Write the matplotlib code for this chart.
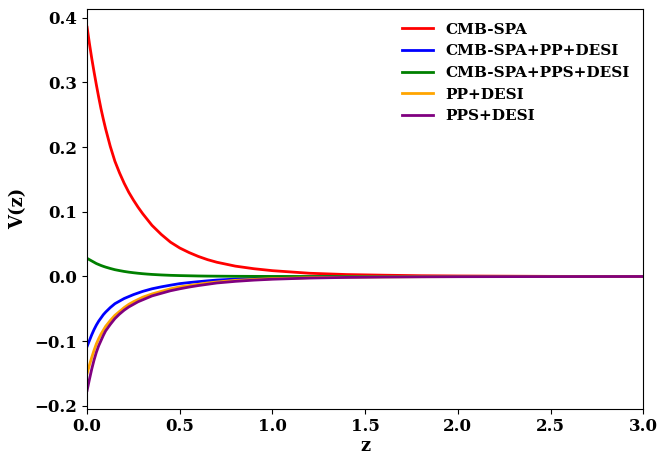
import matplotlib
matplotlib.use("Agg")
import matplotlib.pyplot as plt

plt.rcParams['font.family'] = 'DejaVu Serif'
plt.rcParams['font.weight'] = 'bold'

# values
z = [0, 0.0125, 0.025, 0.0375, 0.05, 0.0625, 0.075, 0.0875, 0.1, 0.125, 0.15,
     0.175, 0.2, 0.225, 0.25, 0.275, 0.3, 0.325, 0.35, 0.375, 0.4, 0.45, 0.5,
     0.55, 0.6, 0.65, 0.7, 0.8, 0.9, 1.0, 1.2, 1.4, 1.6, 1.8, 2.0, 2.5, 3.0]

v_cmb = [0.385, 0.360, 0.337, 0.316, 0.296, 0.277, 0.259, 0.243, 0.228, 0.201,
         0.178, 0.160, 0.144, 0.130, 0.118, 0.107, 0.097, 0.088, 0.079, 0.072,
         0.065, 0.053, 0.044, 0.037, 0.031, 0.026, 0.022, 0.016, 0.012, 0.009,
         0.005, 0.003, 0.002, 0.0012, 0.0008, 0.0002, 0.0]
v_cmb_pp = [-0.108, -0.099, -0.090, -0.082, -0.075, -0.069, -0.064, -0.059, -0.055,
            -0.048, -0.042, -0.038, -0.034, -0.031, -0.028, -0.0255, -0.023, -0.021,
            -0.019, -0.0175, -0.016, -0.0134, -0.011, -0.0094, -0.008, -0.0067,
            -0.0055, -0.004, -0.003, -0.002, -0.001, -0.0005, -0.0003, -0.0002,
            -0.0001, 0.0, 0.0]
v_cmb_pps = [0.028, 0.026, 0.024, 0.022, 0.020, 0.0185, 0.017, 0.0157, 0.0145,
             0.0124, 0.0105, 0.0091, 0.0078, 0.0067, 0.0058, 0.0050, 0.0043, 0.0037,
             0.0032, 0.0028, 0.0024, 0.0018, 0.0014, 0.0011, 0.0008, 0.0006, 0.0005,
             0.0003, 0.0002, 0.0001, 0.0, 0.0, 0.0, 0.0, 0.0, 0.0, 0.0]
v_pp = [-0.150, -0.137, -0.125, -0.114, -0.104, -0.096, -0.089, -0.083, -0.077,
        -0.068, -0.060, -0.054, -0.048, -0.043, -0.039, -0.0355, -0.032, -0.0295,
        -0.027, -0.025, -0.023, -0.019, -0.016, -0.014, -0.012, -0.010, -0.0085,
        -0.006, -0.0045, -0.0033, -0.0018, -0.001, -0.0006, -0.0003, -0.0002,
        0.0, 0.0]
v_pps = [-0.176, -0.159, -0.143, -0.129, -0.117, -0.107, -0.099, -0.091, -0.084,
         -0.074, -0.065, -0.058, -0.052, -0.047, -0.043, -0.039, -0.036, -0.033,
         -0.030, -0.028, -0.026, -0.022, -0.019, -0.0163, -0.014, -0.012, -0.010,
         -0.0075, -0.0056, -0.0042, -0.0024, -0.0014, -0.0008, -0.0005, -0.0003,
         -0.0001, 0.0]

series = [
    ("CMB-SPA", v_cmb, "red"),
    ("CMB-SPA+PP+DESI", v_cmb_pp, "blue"),
    ("CMB-SPA+PPS+DESI", v_cmb_pps, "green"),
    ("PP+DESI", v_pp, "orange"),
    ("PPS+DESI", v_pps, "purple"),
]

fig, ax = plt.subplots(figsize=(6.7, 4.54), dpi=100)
fig.subplots_adjust(left=0.13, right=0.96, top=0.98, bottom=0.1)

for name, v, c in series:
    ax.plot(z, v, color=c, lw=2, label=name)

ax.set_xlim(0, 3)
ax.set_xlabel("z", fontsize=13, fontweight="bold", labelpad=1)
ax.set_ylabel("V(z)", fontsize=13, fontweight="bold", labelpad=5)
ax.tick_params(labelsize=12)
for lab in ax.get_xticklabels() + ax.get_yticklabels():
    lab.set_fontweight("bold")

ax.legend(frameon=False, loc="upper right",
          prop={"weight": "bold", "size": 11})

fig.savefig("out.png", dpi=100)
